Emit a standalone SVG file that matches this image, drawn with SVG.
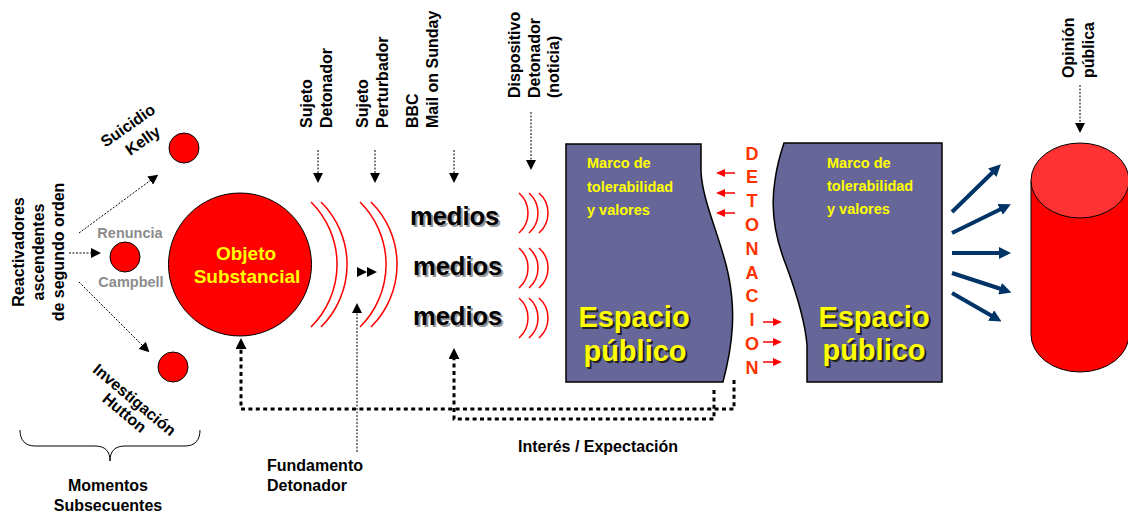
<svg xmlns="http://www.w3.org/2000/svg" width="1128" height="515" viewBox="0 0 1128 515">
<defs>
<style>
text{font-family:"Liberation Sans",Arial,sans-serif;font-weight:bold}
.lbl{font-size:16px;fill:#000}
.gray{font-size:14.5px;fill:#8c8c8c}
.marco{font-size:14.5px;fill:#ffff00}
.det{font-size:18px;fill:#ff3300}
.medios{font-size:25.5px}
.esp{font-size:29px}
.thin{stroke:#000;stroke-width:1;stroke-dasharray:2 1.5;fill:none}
.thick{stroke:#000;stroke-width:3;stroke-dasharray:4 3.4;fill:none}
.redarc{stroke:#ff0000;stroke-width:1.5;fill:none}
.redarr{stroke:#ff0000;stroke-width:1.5;fill:none}
.blue{stroke:#003366;stroke-width:4;fill:none}
.dot{fill:#ff0000;stroke:#000;stroke-width:1}
.panel{fill:#666699;stroke:#000;stroke-width:1.5}
</style>
<marker id="ah" markerUnits="userSpaceOnUse" markerWidth="10" markerHeight="10" refX="1" refY="5" orient="auto">
<path d="M0,0 L10,5 L0,10 z" fill="#000"/>
</marker>
<marker id="ahk" markerUnits="userSpaceOnUse" markerWidth="11" markerHeight="11" refX="1" refY="5.5" orient="auto">
<path d="M0,0 L11,5.5 L0,11 z" fill="#000"/>
</marker>
<marker id="ar" markerUnits="userSpaceOnUse" markerWidth="9" markerHeight="8" refX="1" refY="4" orient="auto">
<path d="M0,0 L9,4 L0,8 z" fill="#ff0000"/>
</marker>
<marker id="ab" markerUnits="userSpaceOnUse" markerWidth="12" markerHeight="12" refX="1" refY="6" orient="auto">
<path d="M0,0 L12,6 L0,12 z" fill="#003366"/>
</marker>
</defs>
<rect width="1128" height="515" fill="#fff"/>

<!-- left labels -->
<g id="reactivadores">
<text class="lbl" text-anchor="middle" transform="translate(24,252) rotate(-90)"><tspan x="0" dy="0">Reactivadores</tspan><tspan x="0" dy="20">ascendentes</tspan><tspan x="0" dy="20">de segundo orden</tspan></text>
</g>

<g id="suicidio">
<circle class="dot" cx="184" cy="148" r="15"/>
<text class="lbl" text-anchor="middle" transform="translate(131,130) rotate(-35)">Suicidio</text>
<text class="lbl" text-anchor="middle" transform="translate(146,145) rotate(-35)">Kelly</text>
</g>

<g id="renuncia">
<circle class="dot" cx="125" cy="257" r="15"/>
<text class="gray" x="130" y="238" text-anchor="middle">Renuncia</text>
<text class="gray" x="131" y="287" text-anchor="middle">Campbell</text>
</g>

<g id="investigacion">
<circle class="dot" cx="173" cy="367" r="15"/>
<text class="lbl" text-anchor="middle" transform="translate(131,404) rotate(40)">Investigación</text>
<text class="lbl" text-anchor="middle" transform="translate(121,417) rotate(40)">Hutton</text>
</g>

<g id="momentos">
<path d="M20,430 C20,440 25,446 35,446 L95,446 C105,446 110,451 110,461 C110,451 115,446 125,446 L185,446 C195,446 200,440 200,430" fill="none" stroke="#000" stroke-width="1"/>
<text class="lbl" x="108" y="491" text-anchor="middle">Momentos</text>
<text class="lbl" x="108" y="511" text-anchor="middle">Subsecuentes</text>
</g>

<g id="objeto">
<circle class="dot" cx="240" cy="264.5" r="71.5"/>
<text x="246" y="260" text-anchor="middle" font-size="19" fill="#ffff00">Objeto</text>
<text x="247" y="283" text-anchor="middle" font-size="19" fill="#ffff00">Substancial</text>
</g>

<g id="ondas">
<path class="redarc" d="M311,202 A88,88 0 0 1 311,327"/>
<path class="redarc" d="M321,202 A88,88 0 0 1 321,327"/>
<path class="redarc" d="M360,202 A88,88 0 0 1 360,327"/>
<path class="redarc" d="M371,202 A88,88 0 0 1 371,327"/>
<path d="M357,267 L367,272 L357,277 z M367,267 L377,272 L367,277 z" fill="#000"/>
</g>

<g id="top-labels">
<text class="lbl" transform="translate(312,128) rotate(-90)"><tspan x="0" dy="0">Sujeto</tspan><tspan x="0" dy="20">Detonador</tspan></text>
<text class="lbl" transform="translate(368,128) rotate(-90)"><tspan x="0" dy="0">Sujeto</tspan><tspan x="0" dy="20">Perturbador</tspan></text>
<text class="lbl" transform="translate(418,128) rotate(-90)"><tspan x="0" dy="0">BBC</tspan><tspan x="0" dy="20">Mail on Sunday</tspan></text>
<text class="lbl" transform="translate(520,98) rotate(-90)"><tspan x="0" dy="0">Dispositivo</tspan><tspan x="0" dy="20">Detonador</tspan><tspan x="0" dy="19">(noticia)</tspan></text>
<text class="lbl" transform="translate(1074,78) rotate(-90)"><tspan x="0" dy="0">Opinión</tspan><tspan x="0" dy="20">pública</tspan></text>
</g>

<g id="medios">
<text class="medios" x="412" y="227" fill="#999">medios</text>
<text class="medios" x="410" y="225" fill="#000">medios</text>
<text class="medios" x="415" y="277" fill="#999">medios</text>
<text class="medios" x="413" y="275" fill="#000">medios</text>
<text class="medios" x="415" y="327" fill="#999">medios</text>
<text class="medios" x="413" y="325" fill="#000">medios</text>
<path class="redarc" d="M519,193 A26.7,26.7 0 0 1 519,233 M529,193 A26.7,26.7 0 0 1 529,233 M539,193 A26.7,26.7 0 0 1 539,233"/>
<path class="redarc" d="M519,248 A26.7,26.7 0 0 1 519,288 M529,248 A26.7,26.7 0 0 1 529,288 M539,248 A26.7,26.7 0 0 1 539,288"/>
<path class="redarc" d="M519,298 A26.7,26.7 0 0 1 519,338 M529,298 A26.7,26.7 0 0 1 529,338 M539,298 A26.7,26.7 0 0 1 539,338"/>
</g>

<g id="espacio-izq">
<path class="panel" d="M566,144 H701 L701,172 C703,205 722,240 729,278 C735,310 734,340 723,382 H566 Z"/>
<text class="marco" x="587" y="168">Marco de</text>
<text class="marco" x="587" y="192">tolerabilidad</text>
<text class="marco" x="587" y="215">y valores</text>
<text class="esp" x="636" y="329" text-anchor="middle" fill="#222">Espacio</text>
<text class="esp" x="634" y="327" text-anchor="middle" fill="#ffff00">Espacio</text>
<text class="esp" x="637" y="363" text-anchor="middle" fill="#222">público</text>
<text class="esp" x="635" y="361" text-anchor="middle" fill="#ffff00">público</text>
</g>

<g id="detonacion">
<text class="det" text-anchor="middle" x="752" y="159.5">D</text>
<text class="det" text-anchor="middle" x="752" y="183.3">E</text>
<text class="det" text-anchor="middle" x="752" y="207.1">T</text>
<text class="det" text-anchor="middle" x="752" y="230.9">O</text>
<text class="det" text-anchor="middle" x="752" y="254.7">N</text>
<text class="det" text-anchor="middle" x="752" y="278.5">A</text>
<text class="det" text-anchor="middle" x="752" y="302.3">C</text>
<text class="det" text-anchor="middle" x="752" y="326.1">I</text>
<text class="det" text-anchor="middle" x="752" y="349.9">O</text>
<text class="det" text-anchor="middle" x="752" y="373.7">N</text>
</g>

<g id="espacio-der">
<path class="panel" d="M784,143 H942 V382 H807 V345 C805,320 796,292 786,265 C776,240 770,210 775,180 C777,165 781,152 784,143 Z"/>
<text class="marco" x="827" y="168">Marco de</text>
<text class="marco" x="827" y="191">tolerabilidad</text>
<text class="marco" x="827" y="214">y valores</text>
<text class="esp" x="876" y="329" text-anchor="middle" fill="#222">Espacio</text>
<text class="esp" x="874" y="327" text-anchor="middle" fill="#ffff00">Espacio</text>
<text class="esp" x="876" y="362" text-anchor="middle" fill="#222">público</text>
<text class="esp" x="874" y="360" text-anchor="middle" fill="#ffff00">público</text>
</g>

<g id="opinion">
<path d="M1031,180.5 V334.5 A49,37.5 0 0 0 1129,334.5 V180.5" fill="#ff0000" stroke="#000" stroke-width="1"/>
<ellipse cx="1080" cy="180.5" rx="49" ry="37.5" fill="#ff3333" stroke="#000" stroke-width="1"/>
</g>

<g id="bottom-labels">
<text class="lbl" x="267" y="471">Fundamento</text>
<text class="lbl" x="267" y="491">Detonador</text>
<text class="lbl" x="598" y="452" text-anchor="middle">Interés / Expectación</text>
</g>

<g id="connectors">
<path class="thin" d="M79,233 L151,180" marker-end="url(#ah)"/>
<path class="thin" d="M69,253 L92,253" marker-end="url(#ah)"/>
<path class="thin" d="M79,282 L143,346" marker-end="url(#ah)"/>
<path class="thin" d="M318,150 V174" marker-end="url(#ah)"/>
<path class="thin" d="M375,150 V174" marker-end="url(#ah)"/>
<path class="thin" d="M454,150 V174" marker-end="url(#ah)"/>
<path class="thin" d="M531,112 V161" marker-end="url(#ah)"/>
<path class="thin" d="M1080,85 V124" marker-end="url(#ah)"/>
<path class="thin" d="M357,452 V312" marker-end="url(#ah)"/>
<path class="thick" d="M734,380 V409 H241 V348" marker-end="url(#ahk)"/>
<path class="thick" d="M714,390 V419 H454 V358" marker-end="url(#ahk)"/>
<path class="redarr" d="M735,173 H724" marker-end="url(#ar)"/>
<path class="redarr" d="M735,193 H724" marker-end="url(#ar)"/>
<path class="redarr" d="M735,213 H724" marker-end="url(#ar)"/>
<path class="redarr" d="M763,322 H774" marker-end="url(#ar)"/>
<path class="redarr" d="M763,342 H774" marker-end="url(#ar)"/>
<path class="redarr" d="M763,362 H774" marker-end="url(#ar)"/>
<path class="blue" d="M952,212 L993,172" marker-end="url(#ab)"/>
<path class="blue" d="M952,233 L1001,209" marker-end="url(#ab)"/>
<path class="blue" d="M952,253 L1000,253" marker-end="url(#ab)"/>
<path class="blue" d="M952,273 L1001,289" marker-end="url(#ab)"/>
<path class="blue" d="M952,293 L992,316" marker-end="url(#ab)"/>
</g>
</svg>
